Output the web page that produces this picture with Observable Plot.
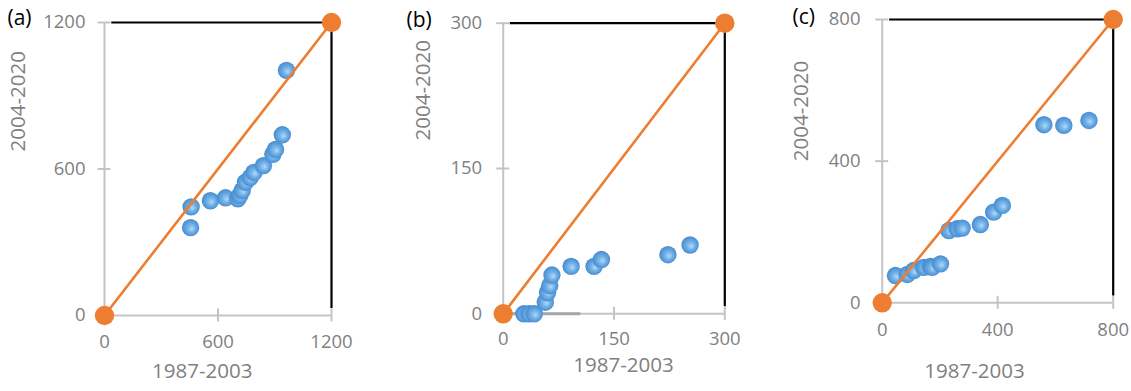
<!DOCTYPE html>
<html><head><meta charset="utf-8">
<script src="https://cdn.jsdelivr.net/npm/d3@7"></script>
<script src="https://cdn.jsdelivr.net/npm/@observablehq/plot@0.6"></script>
<style>
body{margin:0;background:#fff;}
#chart{position:relative;width:1131px;height:391px;overflow:hidden;font-family:"Open Sans",sans-serif;}
#chart svg{position:absolute;top:0;overflow:visible;}
</style></head><body><div id="chart"></div>
<script>
// ---- data ----
const panelLabels = ["(a)", "(b)", "(c)"];
const xTitle = "1987-2003";
const yTitle = "2004-2020";
const axisMax = [1200, 300, 800];
const ticksA = [0, 600, 1200];
const ticksB = [0, 150, 300];
const ticksC = [0, 400, 800];

const xA = [455, 458, 560, 640, 705, 715, 728, 745, 770, 790, 840, 890, 904, 940, 962];
const yA = [360, 445, 470, 482, 478, 492, 512, 546, 565, 586, 614, 660, 680, 740, 1004];

const xB = [28, 35, 42, 57, 60, 63, 66, 92, 123, 133, 223, 253];
const yB = [0, 0, 0, 12, 22, 29, 40, 49, 49, 56, 61, 71];

const xC = [46, 87, 109, 144, 167, 173, 202, 231, 260, 277, 340, 386, 416, 560, 629, 716];
const yC = [77, 80, 91, 100, 103, 100, 110, 204, 209, 211, 221, 256, 275, 503, 501, 515];

const bAxisSegment = [0, 105];

// ---- layout (styles only) ----
const layout = [
  {left: 0,   width: 380, ml: 104,   mt: 22,   fw: 227,   fh: 293,   xTick: 26.7, yTickDx: -19,
   xt: {dx: -15.8, dy: 62.7}, yt: {dx: -86, dy: -17.5}, lab: {dx: -97, dy: -4}},
  {left: 380, width: 380, ml: 122.7, mt: 22.7, fw: 221.6, fh: 290.6, xTick: 25.7, yTickDx: -21,
   xt: {dx: 9.5, dy: 58.5}, yt: {dx: -79.7, dy: -28}, lab: {dx: -96.7, dy: -3.2}},
  {left: 760, width: 371, ml: 121.7, mt: 19,   fw: 231,   fh: 283.3, xTick: 27.7, yTickDx: -21.7,
   xt: {dx: -23.2, dy: 75.4}, yt: {dx: -80.7, dy: 0}, lab: {dx: -89.7, dy: -2}}
];

const panels = [
  {ticks: ticksA, xs: xA, ys: yA},
  {ticks: ticksB, xs: xB, ys: yB},
  {ticks: ticksC, xs: xC, ys: yC}
];

const gray = "#c4c4c4", textGray = "#7f7f7f", orange = "#ed7d31";
const chart = document.getElementById("chart");

panels.forEach((p, i) => {
  const L = layout[i];
  const max = axisMax[i];
  const pts = p.xs.map((x, j) => ({x, y: p.ys[j]}));
  const gid = "sphere" + i;
  const marks = [
    Plot.ruleY([0], {x1: 0, x2: max, stroke: gray, strokeWidth: 2}),
    Plot.ruleX([0], {y1: 0, y2: max, stroke: gray, strokeWidth: 2}),
    Plot.ruleX(p.ticks, {x: d => d, y1: 0, y2: 0, insetTop: -6.5, insetBottom: -6.5, stroke: gray, strokeWidth: 2}),
    Plot.ruleY(p.ticks, {y: d => d, x1: 0, x2: 0, insetLeft: -6.5, insetRight: -6.5, stroke: gray, strokeWidth: 2}),
    Plot.ruleY([max], {x1: max * 0.032, x2: max, stroke: "black", strokeWidth: 2.2}),
    Plot.ruleX([max], {y1: max * 0.024, y2: max, stroke: "black", strokeWidth: 2.2}),
    Plot.text(p.ticks, {x: d => d, y: 0, dy: L.xTick, text: d => String(d), fontSize: 18.5, fill: textGray}),
    Plot.text(p.ticks, {x: 0, y: d => d, dx: L.yTickDx, text: d => String(d), textAnchor: "end", fontSize: 18.5, fill: textGray}),
    Plot.text([xTitle], {frameAnchor: "bottom", dx: L.xt.dx, dy: L.xt.dy, text: d => d, fontSize: 20.5, fill: textGray}),
    Plot.text([yTitle], {frameAnchor: "left", rotate: -90, dx: L.yt.dx, dy: L.yt.dy, text: d => d, fontSize: 20.5, fill: textGray}),
    Plot.text([panelLabels[i]], {frameAnchor: "top-left", dx: L.lab.dx, dy: L.lab.dy, text: d => d, textAnchor: "start", lineAnchor: "middle", fontSize: 21, fill: "black"})
  ];
  if (i === 1) marks.splice(2, 0, Plot.ruleY([0], {x1: bAxisSegment[0], x2: bAxisSegment[1], stroke: "#a6a6a6", strokeWidth: 3}));
  marks.push(
    Plot.dot(pts, {x: "x", y: "y", r: 8.7, fill: `url(#${gid})`}),
    Plot.line([0, max], {x: d => d, y: d => d, stroke: orange, strokeWidth: 2.6}),
    Plot.dot([0, max], {x: d => d, y: d => d, r: 9.7, fill: orange})
  );
  const svg = Plot.plot({
    width: L.width,
    height: 391,
    marginLeft: L.ml,
    marginRight: L.width - L.ml - L.fw,
    marginTop: L.mt,
    marginBottom: 391 - L.mt - L.fh,
    x: {domain: [0, max], axis: null},
    y: {domain: [0, max], axis: null},
    style: {fontFamily: '"Open Sans", sans-serif', background: "transparent"},
    marks
  });
  svg.style.left = L.left + "px";
  const defs = d3.select(svg).insert("defs", ":first-child");
  const g = defs.append("radialGradient").attr("id", gid).attr("cx", "50%").attr("cy", "50%").attr("r", "55%").attr("fx", "58%").attr("fy", "58%");
  g.append("stop").attr("offset", "0%").attr("stop-color", "#b2d9f7");
  g.append("stop").attr("offset", "40%").attr("stop-color", "#74b2e8");
  g.append("stop").attr("offset", "100%").attr("stop-color", "#3f86cc");
  chart.appendChild(svg);
});
</script>
</body></html>
